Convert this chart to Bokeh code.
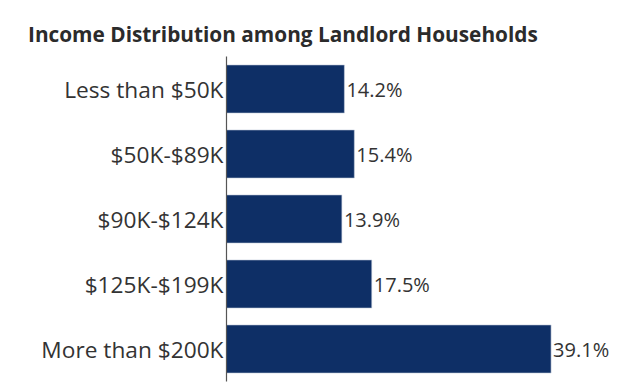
from bokeh.plotting import figure
from bokeh.models import ColumnDataSource, Div
from bokeh.layouts import column
from bokeh.core.properties import value
from bokeh.embed import file_html
from bokeh.resources import INLINE

categories = ["Less than $50K", "$50K-$89K", "$90K-$124K", "$125K-$199K", "More than $200K"]
shares = [14.2, 15.4, 13.9, 17.5, 39.1]
labels = ["14.2%", "15.4%", "13.9%", "17.5%", "39.1%"]
title_text = "Income Distribution among Landlord Households"

FONT = "Open Sans"
src = ColumnDataSource(dict(cat=categories, v=shares, lab=labels))

header = Div(text=title_text, width=620, height=38,
             styles={"font-family": FONT, "font-size": "20.8px", "font-weight": "bold",
                     "color": "#2b2b2b", "padding-left": "23px", "padding-top": "17px",
                     "line-height": "24px", "box-sizing": "border-box", "white-space": "nowrap"})

p = figure(width=620, height=337, y_range=list(reversed(categories)), x_range=(0, 46.5),
           output_backend="svg", toolbar_location=None, tools="",
           min_border_left=226, min_border_right=8, min_border_bottom=4, min_border_top=8)
p.title = None

p.hbar(y="cat", right="v", left=0, height=0.74, source=src, fill_color="#0e2f66",
       line_color="#c8d0de", line_width=0.6)
p.text(x="v", y="cat", text="lab", source=src, x_offset=2, text_baseline="middle",
       text_font=value(FONT), text_font_size="20px", text_color="#333333")

p.xaxis.visible = False
p.xgrid.visible = False
p.ygrid.visible = False
p.outline_line_color = None
p.y_range.range_padding = 0
yax = p.yaxis[0]
yax.major_tick_line_color = None
yax.minor_tick_line_color = None
yax.axis_line_color = "#555555"
yax.axis_line_width = 1.2
yax.major_label_standoff = -3
yax.major_label_text_font = FONT
yax.major_label_text_font_size = "22.7px"
yax.major_label_text_color = "#333333"

layout = column(header, p, spacing=0)
open("out.html", "w").write(file_html(layout, INLINE))
